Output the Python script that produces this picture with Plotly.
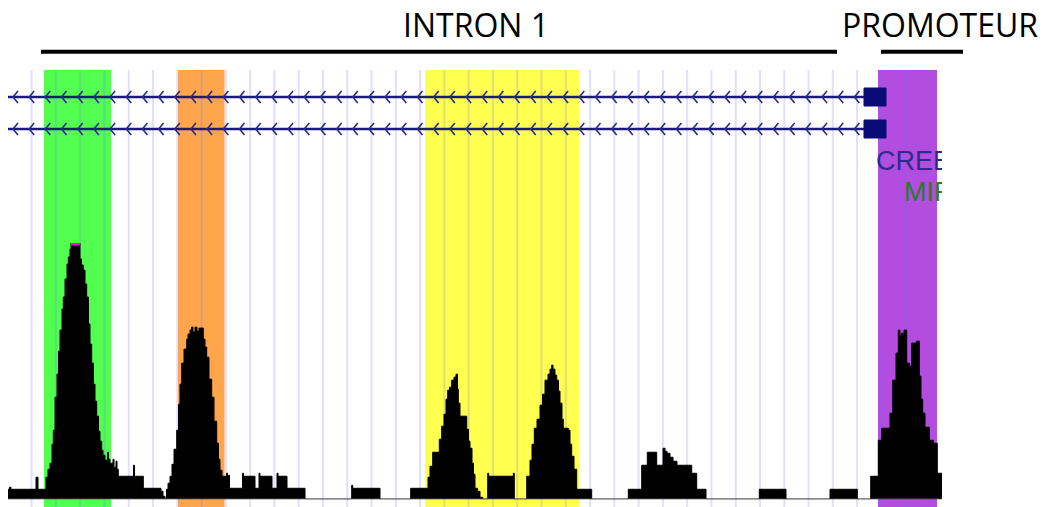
import numpy as np
import plotly.graph_objects as go

W, H = 1045, 507

# ---- annotated regions above the browser view ----
region_labels = ["INTRON 1", "PROMOTEUR"]
region_label_x = [476, 939.5]
region_bar_start = [41, 881]
region_bar_end = [837, 963]

# ---- highlighted intervals ----
hl_start = [44, 178, 425, 878]
hl_end = [111, 224.5, 579, 937]
hl_color = ["#52ff4f", "#ffa64d", "#ffff4f", "#b24ddf"]

# ---- transcript models (minus strand, first exon on the right) ----
tx_rows = [97, 129]
tx_start, tx_end = 8, 866
exon_start, exon_end = 864, 886
chevron_start, chevron_step, chevron_count = 13, 16.18, 53

# ---- grid of the browser ----
grid_start, grid_step, grid_count = 31.6, 24.28, 37
view_left, view_right, view_top = 8, 942, 70

# ---- TFBS labels ----
tfbs_labels = ["CREB", "MIR"]
tfbs_x = [876, 904]
tfbs_y = [163, 194]
tfbs_color = ["#2e2a8c", "#2a7a2a"]

# ---- signal track (step coverage) ----
view_limit = 256
pos = [8, 9.5, 11, 36, 38, 46, 48, 50, 52, 53.3, 55, 57, 58.5, 60, 62, 63.3, 65, 67, 68.3, 70,
       71, 80, 81.5, 83.3, 85, 86.7, 88.5, 90, 91.7, 93.5, 95, 96.7, 98.5, 100, 101.7, 103, 105,
       107.5, 108.5, 110, 113, 114, 116, 117, 118.3, 133.5, 134.5, 143.3, 161, 163, 165, 166.5,
       168, 170, 172, 174, 176.7, 178.5, 180, 181.7, 184, 186.7, 188, 190, 191.5, 193, 195, 197,
       199, 203.3, 205, 206.7, 209, 211.7, 214, 216.7, 218.5, 220, 222, 225.5, 226.5, 227.5,
       228.5, 229.5, 242.5, 243.5, 255, 259, 260, 272, 277, 278, 287, 305, 351.7, 352.7, 380,
       410.7, 428, 430, 432.7, 439.3, 441.7, 444, 446, 447.7, 449.5, 451.7, 454, 456, 457.5,
       458.3, 460, 466.7, 468.5, 470, 472, 473.5, 475, 477.5, 480, 482.7, 487.7, 488.7, 513.3,
       514.3, 526.7, 530, 532, 534.3, 537, 540, 542.5, 545, 548, 550, 551.7, 553, 555, 556.7,
       558.5, 560, 562, 563.3, 568.3, 570, 571.7, 574, 576.7, 591.7, 628.3, 641.7, 647.3, 656.7,
       663, 665, 667, 670, 673, 677, 691.7, 696.7, 706, 759.3, 786, 830, 857.3, 870.7, 878.3,
       881.7, 890, 892.7, 896, 898.3, 900, 901.7, 903, 904, 906.7, 909.3, 911.7, 916.7, 919.3,
       921, 922.7, 925, 929.3, 933.3, 937.3, 942]
cov = [10, 12, 10, 22, 10, 22, 30, 36, 55, 69, 102, 125, 148, 169, 190, 202, 220, 235, 242, 250,
       290, 240, 234, 229, 215, 202, 175, 155, 136, 115, 98, 83, 68, 58, 49, 44, 39,
       47, 40, 36, 40, 32, 38, 30, 23, 34, 23, 11, 8, 3, 0, 10,
       16, 23, 35, 50, 69, 95, 115, 136, 150, 160, 165, 169, 172, 167, 172, 168,
       171, 160, 152, 142, 120, 102, 78, 56, 40, 29, 23, 11, 26, 11,
       24, 11, 26, 23, 11, 26, 23, 11, 26, 23, 11, 0, 14, 11, 0,
       11, 22, 33, 47, 60, 73, 85, 100, 109, 112, 119, 122, 125, 110,
       96, 83, 70, 58, 51, 36, 25, 11, 8, 2, 0, 26, 23, 26,
       0, 23, 39, 55, 71, 80, 94, 105, 119, 125, 130, 134, 130, 124, 119,
       108, 96, 80, 71, 69, 55, 43, 30, 10, 0, 10, 34, 47, 34,
       51, 48, 46, 42, 38, 34, 26, 10, 0, 10, 0, 10, 0, 23, 59,
       71, 86, 119, 146, 169, 163, 166, 163, 169, 136, 133, 156, 158, 123,
       100, 86, 72, 59, 56, 26, 26]

fig = go.Figure()

# highlighted intervals and browser grid, under everything else
shapes = []
for s, e, c in zip(hl_start, hl_end, hl_color):
    shapes.append(dict(type="rect", xref="x", yref="y", x0=s, x1=e, y0=view_top, y1=H,
                       fillcolor=c, line=dict(width=0), layer="below"))
for gx in grid_start + grid_step * np.arange(grid_count):
    shapes.append(dict(type="line", xref="x", yref="y", x0=gx, x1=gx, y0=view_top, y1=H,
                       line=dict(color="rgba(110,110,255,0.22)", width=2), layer="below"))

# first exon boxes
for ry in tx_rows:
    shapes.append(dict(type="rect", xref="x", yref="y", x0=exon_start, x1=exon_end,
                       y0=ry - 9, y1=ry + 9, fillcolor="#0b0b78",
                       line=dict(color="#0b0b78", width=1), layer="above"))

# region bars above the view
for s, e in zip(region_bar_start, region_bar_end):
    shapes.append(dict(type="line", xref="paper", yref="paper", x0=s / W, x1=e / W,
                       y0=1 - 51.7 / H, y1=1 - 51.7 / H,
                       line=dict(color="black", width=4), layer="above"))

# transcript lines with strand chevrons
cx = chevron_start + chevron_step * np.arange(chevron_count)
for ry in tx_rows:
    fig.add_trace(go.Scatter(x=[tx_start, tx_end], y=[ry, ry], mode="lines",
                             line=dict(color="#1a1a7c", width=2.6),
                             xaxis="x", yaxis="y", hoverinfo="skip", showlegend=False))
    chx, chy = [], []
    for x0 in cx:
        chx += [x0 + 5, x0, x0 + 5, None]
        chy += [ry - 6, ry, ry + 6, None]
    fig.add_trace(go.Scatter(x=chx, y=chy, mode="lines",
                             line=dict(color="#2a2a8a", width=1.6),
                             xaxis="x", yaxis="y", hoverinfo="skip", showlegend=False))

# TFBS labels, clipped at the edge of the browser view
for lab, lx, ly, lc in zip(tfbs_labels, tfbs_x, tfbs_y, tfbs_color):
    fig.add_trace(go.Scatter(x=[lx], y=[ly], mode="text", text=[lab],
                             textposition="middle right",
                             textfont=dict(family="Liberation Sans", size=27, color=lc),
                             cliponaxis=True, xaxis="x2", yaxis="y",
                             hoverinfo="skip", showlegend=False))

# coverage signal
fig.add_trace(go.Scatter(x=pos, y=cov, mode="lines", line=dict(shape="hv", color="black", width=1),
                         fill="tozeroy", fillcolor="black",
                         xaxis="x", yaxis="y2", hoverinfo="skip", showlegend=False))

# values above the view limit are flagged in magenta
mx, my = [], []
for i in range(len(pos) - 1):
    if cov[i] > view_limit:
        mx += [pos[i], pos[i + 1], None]
        my += [view_limit - 1, view_limit - 1, None]
fig.add_trace(go.Scatter(x=mx, y=my, mode="lines", line=dict(color="#ff00ff", width=3),
                         cliponaxis=False, xaxis="x", yaxis="y2",
                         hoverinfo="skip", showlegend=False))

# zero line of the track
fig.add_trace(go.Scatter(x=[view_left, view_right], y=[0, 0], mode="lines",
                         line=dict(color="#4a4a4a", width=1.5), cliponaxis=False,
                         xaxis="x", yaxis="y2", hoverinfo="skip", showlegend=False))

annotations = []
for lab, lx in zip(region_labels, region_label_x):
    annotations.append(dict(text=lab, xref="paper", yref="paper", x=lx / W, y=1 - 24 / H,
                            xanchor="center", yanchor="middle", showarrow=False,
                            font=dict(family="Open Sans", size=32, color="black")))

hidden = dict(visible=False, showgrid=False, zeroline=False, fixedrange=True)
fig.update_layout(
    width=W, height=H,
    margin=dict(l=0, r=0, t=0, b=0),
    paper_bgcolor="white", plot_bgcolor="rgba(0,0,0,0)",
    xaxis=dict(domain=[0, 1], range=[0, W], anchor="y", **hidden),
    yaxis=dict(domain=[0, 1], range=[H, 0], anchor="x", **hidden),
    yaxis2=dict(domain=[(H - 499.3) / H, (H - 243) / H], range=[0, view_limit], anchor="x", **hidden),
    xaxis2=dict(domain=[0, view_right / W], range=[0, view_right], anchor="y", **hidden),
    shapes=shapes, annotations=annotations, showlegend=False,
)

fig.write_html("out.html")
